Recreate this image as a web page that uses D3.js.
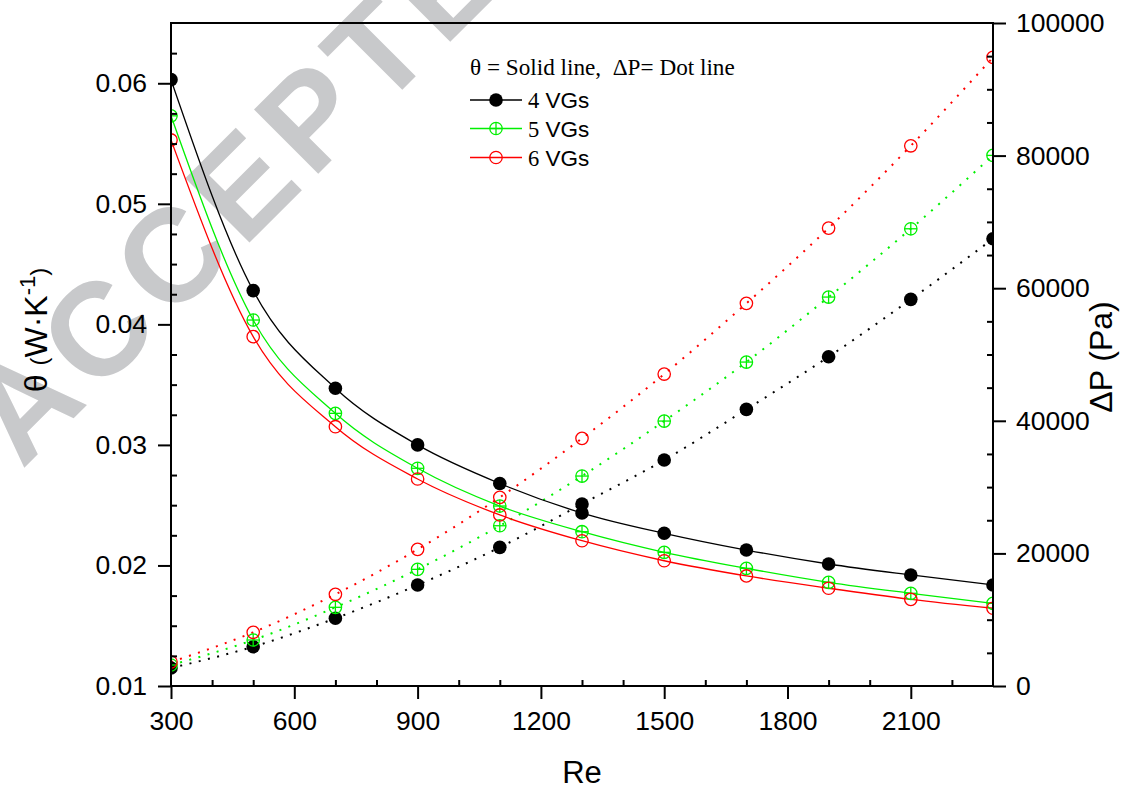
<!DOCTYPE html>
<html>
<head>
<meta charset="utf-8">
<script src="https://cdn.jsdelivr.net/npm/d3@7"></script>
<style>
  html, body { margin: 0; padding: 0; background: #fff; }
  svg { display: block; }
  .tick text { font-family: "Liberation Sans", Arial, sans-serif; font-size: 26.5px; fill: #000; }
</style>
</head>
<body>
<svg id="chart" width="1122" height="789"></svg>
<script>
// Reynolds numbers of the simulated cases
const reynolds = [300, 500, 700, 900, 1100, 1300, 1500, 1700, 1900, 2100, 2300];

// Thermal resistance θ (W·K-1), left axis
const theta4 = [0.0603, 0.0428, 0.0347, 0.0300, 0.0268, 0.02435, 0.02267, 0.02128, 0.02012, 0.01921, 0.01838];
const theta5 = [0.0573, 0.04036, 0.03262, 0.02806, 0.02493, 0.0228, 0.02109, 0.01976, 0.0186, 0.01769, 0.01686];
const theta6 = [0.0553, 0.03898, 0.03151, 0.02717, 0.02419, 0.02205, 0.02039, 0.01913, 0.01811, 0.01719, 0.01645];

// Pressure drop ΔP (Pa), right axis
const dp4 = [2714, 5926, 10209, 15231, 20916, 27446, 34081, 41726, 49658, 58315, 67456];
const dp5 = [3167, 6937, 11868, 17598, 24173, 31668, 39962, 48859, 58663, 68963, 80030];
const dp6 = [3619, 8098, 13828, 20614, 28456, 37353, 47050, 57713, 69066, 81478, 94810];

// Axis ticks
const xMajor = [300, 600, 900, 1200, 1500, 1800, 2100];
const xMinor = [400, 500, 700, 800, 1000, 1100, 1300, 1400, 1600, 1700, 1900, 2000, 2200];
const yLMajor = [0.01, 0.02, 0.03, 0.04, 0.05, 0.06];
const yLMinor = [0.0125, 0.015, 0.0175, 0.0225, 0.025, 0.0275, 0.0325, 0.035, 0.0375,
                 0.0425, 0.045, 0.0475, 0.0525, 0.055, 0.0575, 0.0625];
const yRMajor = [0, 20000, 40000, 60000, 80000, 100000];
const yRMinor = [5000, 10000, 15000, 25000, 30000, 35000, 45000, 50000, 55000,
                 65000, 70000, 75000, 85000, 90000, 95000];

const seriesNames = ["4 VGs", "5 VGs", "6 VGs"];
const seriesColors = ["#000000", "#00f000", "#ff0000"];
const markerKinds = ["filled", "cross", "open"];

const svg = d3.select("#chart");
const plot = { left: 171, right: 993, top: 23, bottom: 686 };

const x = d3.scaleLinear().domain([300, 2300]).range([plot.left, plot.right]);
const yL = d3.scaleLinear().domain([0.01, 0.065]).range([plot.bottom, plot.top]);
const yR = d3.scaleLinear().domain([0, 100000]).range([plot.bottom, plot.top]);

// Watermark text, sitting behind everything
svg.append("text")
  .attr("transform", "translate(22,470) rotate(-45)")
  .attr("font-family", "'Liberation Sans', Arial, sans-serif")
  .attr("font-weight", "bold")
  .attr("font-size", 132)
  .attr("letter-spacing", 9)
  .attr("fill", "#c8c9cb")
  .text("ACCEPTED");

svg.append("clipPath").attr("id", "plotclip")
  .append("rect")
  .attr("x", plot.left).attr("y", plot.top)
  .attr("width", plot.right - plot.left).attr("height", plot.bottom - plot.top);

const g = svg.append("g").attr("clip-path", "url(#plotclip)");

const thetaSets = [theta4, theta5, theta6];
const dpSets = [dp4, dp5, dp6];

const solid = d3.line().x(d => x(d[0])).y(d => yL(d[1])).curve(d3.curveMonotoneX);
const dotted = d3.line().x(d => x(d[0])).y(d => yR(d[1])).curve(d3.curveMonotoneX);

// dotted ΔP curves
dpSets.forEach((vals, i) => {
  g.append("path")
    .datum(reynolds.map((r, k) => [r, vals[k]]))
    .attr("d", dotted)
    .attr("fill", "none")
    .attr("stroke", seriesColors[i])
    .attr("stroke-width", 2)
    .attr("stroke-dasharray", "2 7.5");
});

// solid θ curves
thetaSets.forEach((vals, i) => {
  g.append("path")
    .datum(reynolds.map((r, k) => [r, vals[k]]))
    .attr("d", solid)
    .attr("fill", "none")
    .attr("stroke", seriesColors[i])
    .attr("stroke-width", 1.3);
});

function drawMarker(sel, cx, cy, kind, color) {
  const r = 6.8;
  if (kind === "filled") {
    sel.append("circle").attr("cx", cx).attr("cy", cy).attr("r", r).attr("fill", color);
  } else {
    sel.append("circle").attr("cx", cx).attr("cy", cy).attr("r", r - 0.6)
      .attr("fill", "none").attr("stroke", color).attr("stroke-width", 1.3);
    if (kind === "cross") {
      sel.append("line").attr("x1", cx - r + 0.6).attr("x2", cx + r - 0.6).attr("y1", cy).attr("y2", cy)
        .attr("stroke", color).attr("stroke-width", 1.3);
      sel.append("line").attr("x1", cx).attr("x2", cx).attr("y1", cy - r + 0.6).attr("y2", cy + r - 0.6)
        .attr("stroke", color).attr("stroke-width", 1.3);
    }
  }
}

// markers
[0, 1, 2].forEach(i => {
  reynolds.forEach((r, k) => {
    drawMarker(g, x(r), yR(dpSets[i][k]), markerKinds[i], seriesColors[i]);
  });
  reynolds.forEach((r, k) => {
    drawMarker(g, x(r), yL(thetaSets[i][k]), markerKinds[i], seriesColors[i]);
  });
});

// Axes: major ticks outward, minor ticks inward
function styleAxis(sel) {
  sel.select(".domain").remove();
  sel.selectAll(".tick line").attr("stroke", "#000").attr("stroke-width", 2);
}

svg.append("g").attr("transform", `translate(0,${plot.bottom})`)
  .call(d3.axisBottom(x).tickValues(xMajor).tickSize(13).tickPadding(12).tickFormat(d3.format("d")))
  .call(styleAxis)
  .call(s => s.selectAll("text").attr("dy", "0.71em"));
svg.append("g").attr("transform", `translate(0,${plot.bottom})`)
  .call(d3.axisBottom(x).tickValues(xMinor).tickSize(-6).tickFormat(""))
  .call(styleAxis);

svg.append("g").attr("transform", `translate(${plot.left},0)`)
  .call(d3.axisLeft(yL).tickValues(yLMajor).tickSize(13).tickPadding(11).tickFormat(d3.format(".2f")))
  .call(styleAxis);
svg.append("g").attr("transform", `translate(${plot.left},0)`)
  .call(d3.axisLeft(yL).tickValues(yLMinor).tickSize(-6).tickFormat(""))
  .call(styleAxis);

svg.append("g").attr("transform", `translate(${plot.right},0)`)
  .call(d3.axisRight(yR).tickValues(yRMajor).tickSize(13).tickPadding(10).tickFormat(d3.format("d")))
  .call(styleAxis);
svg.append("g").attr("transform", `translate(${plot.right},0)`)
  .call(d3.axisRight(yR).tickValues(yRMinor).tickSize(-6).tickFormat(""))
  .call(styleAxis);

// frame
svg.append("rect")
  .attr("x", plot.left).attr("y", plot.top)
  .attr("width", plot.right - plot.left).attr("height", plot.bottom - plot.top)
  .attr("fill", "none").attr("stroke", "#000").attr("stroke-width", 2);

// axis titles
svg.append("text")
  .attr("x", 582).attr("y", 783)
  .attr("text-anchor", "middle")
  .attr("font-family", "'Liberation Sans', Arial, sans-serif")
  .attr("font-size", 31)
  .text("Re");

const lt = svg.append("text")
  .attr("transform", "translate(47,330) rotate(-90)")
  .attr("text-anchor", "middle")
  .attr("font-family", "'Liberation Sans', Arial, sans-serif")
  .attr("font-size", 32);
lt.append("tspan").text("θ ");
lt.append("tspan").attr("font-size", 24).text("(");
lt.append("tspan").text("W·K");
lt.append("tspan").attr("font-size", 22).attr("dy", -12).text("-1");
lt.append("tspan").attr("font-size", 24).attr("dy", 12).text(")");

svg.append("text")
  .attr("transform", "translate(1112,357) rotate(-90)")
  .attr("text-anchor", "middle")
  .attr("font-family", "'Liberation Sans', Arial, sans-serif")
  .attr("font-size", 32)
  .text("ΔP (Pa)");

// legend
const leg = svg.append("g");
leg.append("text")
  .attr("x", 470).attr("y", 75)
  .attr("font-family", "'Liberation Serif', 'Times New Roman', serif")
  .attr("font-size", 23.2)
  .style("white-space", "pre")
  .text("θ = Solid line,  ΔP= Dot line");

const rowY = [100, 128.5, 157.5];
seriesNames.forEach((name, i) => {
  const y0 = rowY[i];
  leg.append("line").attr("x1", 470).attr("x2", 522).attr("y1", y0).attr("y2", y0)
    .attr("stroke", seriesColors[i]).attr("stroke-width", 1.3);
  drawMarker(leg, 496, y0, markerKinds[i], seriesColors[i]);
  const t = leg.append("text").attr("x", 528).attr("y", y0 + 8).attr("font-size", 22.5);
  const parts = name.split(" ");
  t.append("tspan").attr("font-family", "'Liberation Serif', 'Times New Roman', serif").text(parts[0]);
  t.append("tspan").attr("font-family", "'Liberation Sans', Arial, sans-serif").text(" " + parts[1]);
});
</script>
</body>
</html>
